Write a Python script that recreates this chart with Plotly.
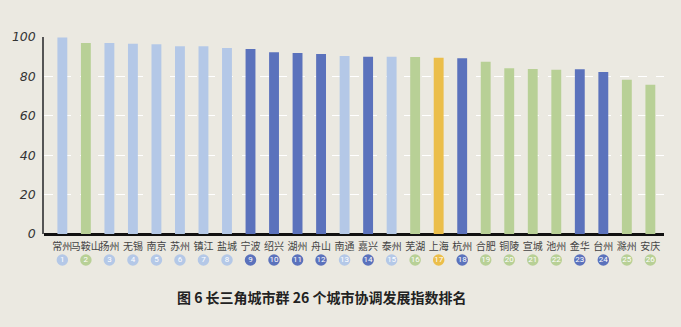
import plotly.graph_objects as go

cities = ["常州", "马鞍山", "扬州", "无锡", "南京", "苏州", "镇江", "盐城", "宁波", "绍兴",
          "湖州", "舟山", "南通", "嘉兴", "泰州", "芜湖", "上海", "杭州", "合肥", "铜陵",
          "宣城", "池州", "金华", "台州", "滁州", "安庆"]
values = [99.7, 97.0, 96.9, 96.6, 96.3, 95.3, 95.3, 94.4, 93.9, 92.2,
          91.9, 91.4, 90.4, 90.0, 90.0, 89.8, 89.5, 89.2, 87.5, 84.1,
          83.8, 83.4, 83.6, 82.2, 78.3, 75.8]
# province group: js=江苏, ah=安徽, zj=浙江, sh=上海
groups = ["js", "ah", "js", "js", "js", "js", "js", "js", "zj", "zj",
          "zj", "zj", "js", "zj", "js", "ah", "sh", "zj", "ah", "ah",
          "ah", "ah", "zj", "zj", "ah", "ah"]
ranks = list(range(1, 27))
y_ticks = [0, 20, 40, 60, 80, 100]
title_text = "图 6 长三角城市群 26 个城市协调发展指数排名"

palette = {"js": "#b4c8e7", "ah": "#b8d096", "zj": "#5b72bc", "sh": "#ebbe4a"}
colors = [palette[g] for g in groups]
bg = "#ebe9e1"

H, T, B = 327, 37, 57
plot_h = H - T - B
axis_px = 234
split = (H - B - axis_px) / plot_h

fig = go.Figure()
fig.add_trace(go.Bar(
    x=cities, y=values, marker=dict(color=colors, line=dict(width=0)),
    width=0.42, hoverinfo="x+y", showlegend=False,
))
fig.add_trace(go.Scatter(
    x=cities, y=[10] * len(cities), yaxis="y2", mode="markers+text",
    marker=dict(size=11.5, color=colors, line=dict(width=0)),
    text=[str(r) for r in ranks], textposition="middle center",
    textfont=dict(size=8, color="white", family="Roboto"),
    cliponaxis=False, showlegend=False, hoverinfo="skip",
))

fig.update_layout(
    width=681, height=H,
    margin=dict(l=40, r=17, t=T, b=B),
    paper_bgcolor=bg, plot_bgcolor=bg,
    font=dict(family="Noto Sans CJK SC", color="#444444"),
    xaxis=dict(
        range=[-0.78, 25.58], showgrid=False, zeroline=False,
        showline=False, ticks="", tickangle=0, anchor="y",
        tickfont=dict(size=10, color="#444444"), ticklabelstandoff=5,
        fixedrange=True,
    ),
    yaxis=dict(
        domain=[split, 1],
        range=[0, 100], tickvals=y_ticks, showgrid=True,
        gridcolor="white", griddash="dash", gridwidth=1.2,
        zeroline=True, zerolinecolor="#111111", zerolinewidth=3,
        showline=True, linecolor="#555555", linewidth=1.5,
        tickfont=dict(size=12.5, color="#333333", family="DejaVu Sans", style="italic"),
        ticks="", ticklabelstandoff=4,
    ),
    yaxis2=dict(domain=[0, split], range=[0, H - B - axis_px], visible=False,
                fixedrange=True),
    bargap=0.58,
    annotations=[dict(
        text="<b>" + title_text + "</b>", xref="paper", yref="paper",
        x=(320 - 40) / 624, y=(H - B - 297) / plot_h, xanchor="center", yanchor="middle",
        showarrow=False, font=dict(size=14, color="#222222", family="Noto Sans CJK SC"),
    )],
)
fig.write_html("out.html")
